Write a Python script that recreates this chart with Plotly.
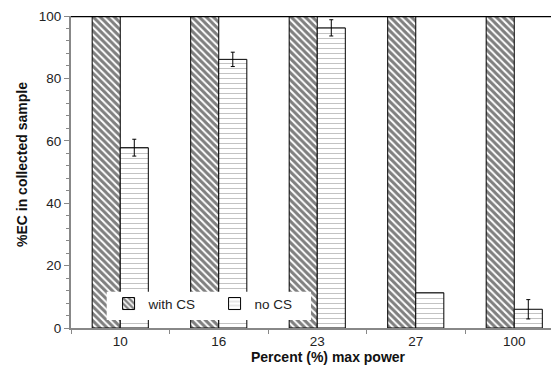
import plotly.graph_objects as go

categories = ["10", "16", "23", "27", "100"]
with_cs = [100, 100, 100, 100, 100]
no_cs = [57.8, 86.1, 96.2, 11.3, 6.0]
no_cs_err = [2.7, 2.3, 2.6, None, 3.1]
y_ticks = [0, 20, 40, 60, 80, 100]

# the page body adds an 8px offset, so the figure is drawn 8px smaller
OFF = 8
W, H = 559 - OFF, 369 - OFF
PL, PT, PB = 71, 16, 328          # plot box in screen pixels
L, R, T = PL - OFF, 0, PT - OFF
plot_w = W - L - R
plot_h = PB - PT
B = H - T - plot_h
cat_px = 98.5
x_max = -0.5 + plot_w / cat_px

font = "Liberation Sans, Arial, sans-serif"

# missing error values are left out of the drawing (NaN -> no bar)
err_arr = [e if e is not None else "NaN" for e in no_cs_err]

fig = go.Figure()
fig.add_trace(go.Bar(
    x=categories, y=with_cs, name="with CS",
    marker=dict(color="white", line=dict(color="black", width=1),
                pattern=dict(shape="\\", fgcolor="black", bgcolor="white",
                             size=5, solidity=0.6)),
))
fig.add_trace(go.Bar(
    x=categories, y=no_cs, name="no CS",
    marker=dict(color="white", line=dict(color="black", width=1),
                pattern=dict(shape="-", fgcolor="#888", bgcolor="white",
                             size=5, solidity=0.2)),
    error_y=dict(type="data", array=err_arr, visible=True,
                 color="black", thickness=1, width=2),
))

fig.update_layout(
    width=W, height=H,
    margin=dict(l=L, r=R, t=T, b=B, pad=0, autoexpand=False),
    paper_bgcolor="white", plot_bgcolor="white",
    barmode="group", bargap=0.43, bargroupgap=0,
    font=dict(family=font, size=13.5, color="#222"),
    showlegend=True,
    legend=dict(orientation="h", x=0.077, y=0.028, xanchor="left", yanchor="bottom",
                bgcolor="rgba(0,0,0,0)", borderwidth=0,
                font=dict(family=font, size=13.5, color="#222"),
                entrywidth=61, entrywidthmode="pixels", traceorder="normal"),
    xaxis=dict(
        type="category", range=[-0.5, x_max], automargin=False,
        showline=True, linecolor="#888", linewidth=2,
        ticks="outside", tickson="boundaries", ticklen=4, tickcolor="#888", tickwidth=1,
        showgrid=False, zeroline=False,
        tickfont=dict(family=font, size=13.5, color="#222"),
    ),
    yaxis=dict(
        range=[0, 100], tickvals=y_ticks, automargin=False,
        showline=True, linecolor="#888", linewidth=2,
        ticks="outside", ticklen=5, tickcolor="#888", tickwidth=1,
        minor=dict(dtick=4, ticks="outside", ticklen=3, tickcolor="#888", tickwidth=1, showgrid=False),
        showgrid=False, zeroline=False,
        tickfont=dict(family=font, size=13.5, color="#222"),
    ),
    shapes=[
        dict(type="line", xref="paper", yref="y", x0=0, x1=1, y0=100, y1=100,
             line=dict(color="black", width=2.5), layer="above"),
        dict(type="rect", xref="paper", yref="paper",
             x0=(106.7 - PL) / plot_w, x1=(311 - PL) / plot_w,
             y0=(PB - 320) / plot_h, y1=(PB - 291.7) / plot_h,
             fillcolor="white", line=dict(width=0), layer="above"),
    ],
    annotations=[
        dict(text="<b>Percent (%) max power</b>", xref="paper", yref="paper",
             x=(328 - PL) / plot_w, y=-(357 - PB) / plot_h, xanchor="center", yanchor="middle",
             showarrow=False, font=dict(family=font, size=14, color="#111")),
        dict(text="<b>%EC in collected sample</b>", xref="paper", yref="paper",
             x=-(PL - 22) / plot_w, y=(PB - 165) / plot_h, xanchor="center", yanchor="middle",
             textangle=-90, showarrow=False, font=dict(family=font, size=14, color="#111")),
    ],
)

fig.write_html("out.html")
